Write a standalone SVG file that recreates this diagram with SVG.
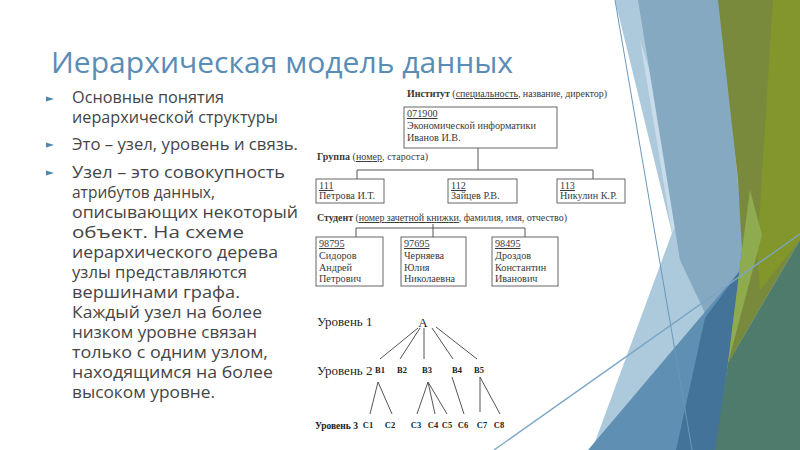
<svg xmlns="http://www.w3.org/2000/svg" width="800" height="450" viewBox="0 0 800 450">
<defs>
<style>
.title{font-family:"Open Sans","DejaVu Sans",sans-serif;font-size:30px;fill:#5a8db5}
.body{font-family:"Open Sans","DejaVu Sans",sans-serif;font-size:15.5px;fill:#454545}
.bul{fill:#4f86ae}
.t{font-family:"Liberation Serif",serif;font-size:10.2px;fill:#3a3a3a}
.h{font-family:"Liberation Serif",serif;font-size:10px;fill:#3a3a3a}
.box{fill:#ffffff;stroke:#666666;stroke-width:1}
.ln{stroke:#555555;stroke-width:1;fill:none}
.u{text-decoration:underline}
.b{font-weight:bold}
.lv{font-family:"Liberation Serif",serif;font-size:13px;fill:#222222}
.sm{font-family:"Liberation Serif",serif;font-size:8.5px;font-weight:bold;fill:#222222;text-anchor:middle}
</style>
</defs>
<rect width="800" height="450" fill="#ffffff"/>
<g id="decor">
<polygon points="615,0 800,0 800,450 592,450 672,233" fill="#adc9dc"/>
<polygon points="640,40 690,200 672,233" fill="#c9dcea"/>
<polygon points="638,0 720,0 745,255 728,362 680,260" fill="#86a9c2"/>
<polygon points="588,450 743,267 728,363 716,450" fill="#5f8fb2"/>
<polygon points="676,450 716,450 728,363 742,268 705,318" fill="#44739a"/>
<polygon points="718,0 800,0 800,240 728,363 742,250 738,180" fill="#7a8a3d"/>
<polygon points="773,0 800,0 800,240 760,290 757,255" fill="#82962b"/>
<polygon points="750,190 762,235 728,363 742,250" fill="#8fab4f"/>
<polygon points="800,240 800,450 715,450 728,363" fill="#4e7b6b"/>
<line x1="615" y1="0" x2="692" y2="450" stroke="#6a98ba" stroke-width="1"/>
<line x1="494" y1="450" x2="800" y2="234" stroke="#7aa6c4" stroke-width="1.3"/>
</g>
<text class="title" x="51" y="73" textLength="462" lengthAdjust="spacingAndGlyphs">Иерархическая модель данных</text>
<g id="bullets">
<polygon class="bul" points="46,96.5 54,99 46,101.5"/>
<polygon class="bul" points="46,142.5 54,145 46,147.5"/>
<polygon class="bul" points="46,170.5 54,173 46,175.5"/>
<text class="body" x="72" y="103" textLength="152" lengthAdjust="spacingAndGlyphs">Основные понятия</text>
<text class="body" x="72" y="123" textLength="206" lengthAdjust="spacingAndGlyphs">иерархической структуры</text>
<text class="body" x="72" y="150" textLength="226" lengthAdjust="spacingAndGlyphs">Это – узел, уровень и связь.</text>
<text class="body" x="72" y="178" textLength="213" lengthAdjust="spacingAndGlyphs">Узел – это совокупность</text>
<text class="body" x="72" y="198" textLength="143" lengthAdjust="spacingAndGlyphs">атрибутов данных,</text>
<text class="body" x="72" y="218" textLength="226" lengthAdjust="spacingAndGlyphs">описывающих некоторый</text>
<text class="body" x="72" y="238" textLength="172" lengthAdjust="spacingAndGlyphs">объект. На схеме</text>
<text class="body" x="72" y="258" textLength="206" lengthAdjust="spacingAndGlyphs">иерархического дерева</text>
<text class="body" x="72" y="278" textLength="175" lengthAdjust="spacingAndGlyphs">узлы представляются</text>
<text class="body" x="72" y="298" textLength="168" lengthAdjust="spacingAndGlyphs">вершинами графа.</text>
<text class="body" x="72" y="318" textLength="190" lengthAdjust="spacingAndGlyphs">Каждый узел на более</text>
<text class="body" x="72" y="338" textLength="185" lengthAdjust="spacingAndGlyphs">низком уровне связан</text>
<text class="body" x="72" y="358" textLength="196" lengthAdjust="spacingAndGlyphs">только с одним узлом,</text>
<text class="body" x="72" y="378" textLength="201" lengthAdjust="spacingAndGlyphs">находящимся на более</text>
<text class="body" x="72" y="398" textLength="143" lengthAdjust="spacingAndGlyphs">высоком уровне.</text>
</g>
<g id="connectors">
<path class="ln" d="M478,148 V170 M357,170 H593 M357,170 V179 M593,170 V179"/>
<path class="ln" d="M433,224 V237 M356,228 H525 M356,228 V237 M525,228 V237"/>
<path class="ln" d="M418,328 L380,359 M420,328 L400,359 M424,328 L424,359 M432,328 L453,359 M436,327 L477,359"/>
<path class="ln" d="M378,382 L370,414 M378,382 L392,414 M428,382 L417,414 M428,382 L435,414 M428,382 L447,414 M452,377 L464,414 M480,377 L480,412 M480,377 L500,414"/>
</g>
<g id="labels">
<text class="h" x="407" y="97" textLength="200"><tspan class="b">Институт</tspan> (<tspan class="u">специальность</tspan>, название, директор)</text>
<text class="h" x="317" y="160" textLength="111"><tspan class="b">Группа</tspan> (<tspan class="u">номер</tspan>, староста)</text>
<text class="h" x="317" y="221" textLength="250"><tspan class="b">Студент</tspan> (<tspan class="u">номер зачетной книжки</tspan>, фамилия, имя, отчество)</text>
</g>
<g id="node-institute">
<rect class="box" x="404" y="107" width="153" height="41"/>
<text class="t" x="407" y="117"><tspan class="u">071900</tspan></text>
<text class="t" x="407" y="129">Экономической информатики</text>
<text class="t" x="407" y="141">Иванов И.В.</text>
</g>
<g id="node-g111">
<rect class="box" x="316" y="179" width="68" height="24"/>
<text class="t" x="319" y="189"><tspan class="u">111</tspan></text>
<text class="t" x="319" y="199">Петрова И.Т.</text>
</g>
<g id="node-g112">
<rect class="box" x="448" y="179" width="69" height="24"/>
<text class="t" x="451" y="189"><tspan class="u">112</tspan></text>
<text class="t" x="451" y="199">Зайцев Р.В.</text>
</g>
<g id="node-g113">
<rect class="box" x="557" y="179" width="68" height="24"/>
<text class="t" x="560" y="189"><tspan class="u">113</tspan></text>
<text class="t" x="560" y="199">Никулин К.Р.</text>
</g>
<g id="node-s98795">
<rect class="box" x="316" y="237" width="67" height="49"/>
<text class="t" x="319" y="247"><tspan class="u">98795</tspan></text>
<text class="t" x="319" y="259">Сидоров</text>
<text class="t" x="319" y="271">Андрей</text>
<text class="t" x="319" y="282">Петрович</text>
</g>
<g id="node-s97695">
<rect class="box" x="401" y="237" width="65" height="49"/>
<text class="t" x="404" y="247"><tspan class="u">97695</tspan></text>
<text class="t" x="404" y="259">Черняева</text>
<text class="t" x="404" y="271">Юлия</text>
<text class="t" x="404" y="282">Николаевна</text>
</g>
<g id="node-s98495">
<rect class="box" x="492" y="237" width="66" height="49"/>
<text class="t" x="495" y="247"><tspan class="u">98495</tspan></text>
<text class="t" x="495" y="259">Дроздов</text>
<text class="t" x="495" y="271">Константин</text>
<text class="t" x="495" y="282">Иванович</text>
</g>
<g id="levels">
<text class="lv" x="317" y="326">Уровень 1</text>
<text class="lv" x="317" y="375">Уровень 2</text>
<text class="lv b" x="315" y="429" style="font-size:9.5px">Уровень 3</text>
</g>
<g id="node-A"><text class="lv" x="423" y="327" text-anchor="middle">A</text></g>
<g id="node-B1"><text class="sm" x="380" y="373">B1</text></g>
<g id="node-B2"><text class="sm" x="402" y="373">B2</text></g>
<g id="node-B3"><text class="sm" x="427" y="373">B3</text></g>
<g id="node-B4"><text class="sm" x="457" y="373">B4</text></g>
<g id="node-B5"><text class="sm" x="479" y="373">B5</text></g>
<g id="node-C1"><text class="sm" x="368" y="428">C1</text></g>
<g id="node-C2"><text class="sm" x="390" y="428">C2</text></g>
<g id="node-C3"><text class="sm" x="416" y="428">C3</text></g>
<g id="node-C4"><text class="sm" x="433" y="428">C4</text></g>
<g id="node-C5"><text class="sm" x="447" y="428">C5</text></g>
<g id="node-C6"><text class="sm" x="463" y="428">C6</text></g>
<g id="node-C7"><text class="sm" x="482" y="428">C7</text></g>
<g id="node-C8"><text class="sm" x="499" y="428">C8</text></g>
</svg>
